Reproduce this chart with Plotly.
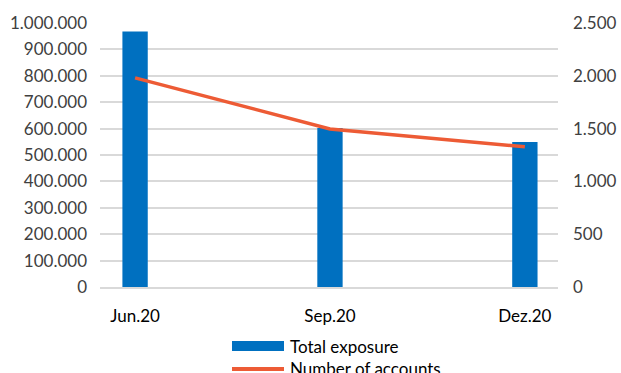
import plotly.graph_objects as go

categories = ["Jun.20", "Sep.20", "Dez.20"]
total_exposure = [968000, 602000, 549000]
number_of_accounts = [1980, 1497, 1328]
legend_labels = ["Total exposure", "Number of accounts"]

font_family = "Lato, Noto Sans, sans-serif"
text_color = "#404040"
bar_color = "#0070C0"
line_color = "#ED5B35"

fig = go.Figure()
fig.add_trace(go.Bar(
    x=[0, 1, 2], y=total_exposure, name=legend_labels[0],
    marker=dict(color=bar_color, line=dict(width=0)), width=0.13,
    yaxis="y",
))
fig.add_trace(go.Scatter(
    x=[0, 1, 2], y=number_of_accounts, name=legend_labels[1],
    mode="lines", line=dict(color=line_color, width=3.5),
    yaxis="y2",
))

# Legend drawn manually (reference legend is clipped at the bottom edge)
W, H = 458.0, 264.0
def px_x(p):
    return (p - 100) / W
def px_y(p):
    return (287 - p) / H

fig.add_shape(type="rect", xref="paper", yref="paper",
              x0=px_x(232), x1=px_x(284), y0=px_y(351), y1=px_y(341),
              fillcolor=bar_color, line=dict(width=0))
fig.add_shape(type="line", xref="paper", yref="paper",
              x0=px_x(232), x1=px_x(284), y0=px_y(369), y1=px_y(369),
              line=dict(color=line_color, width=4))
for lbl, py in zip(legend_labels, [346, 368]):
    fig.add_annotation(text=lbl, xref="paper", yref="paper",
                       x=px_x(288), y=px_y(py), xanchor="left", yanchor="middle",
                       showarrow=False, font=dict(size=17, color="#000000"))

fig.update_layout(
    template="none",
    width=621, height=373,
    margin=dict(l=100, r=63, t=23, b=86, pad=0),
    paper_bgcolor="white", plot_bgcolor="white",
    separators=",.",
    font=dict(family=font_family, size=17, color=text_color),
    showlegend=False,
    xaxis=dict(
        range=[-0.18, 2.17], tickmode="array", tickvals=[0, 1, 2],
        ticktext=categories, showgrid=False, zeroline=False,
        showline=True, linecolor="#d9d9d9", linewidth=1.5,
        ticks="", ticklabelstandoff=13, automargin=False,
        tickfont=dict(color="#000000"),
    ),
    yaxis=dict(
        range=[0, 1000000], dtick=100000, tickformat=",d",
        showgrid=True, gridcolor="#d9d9d9", gridwidth=1.5,
        zeroline=False, ticks="", ticklabelstandoff=12, automargin=False,
        showline=False,
    ),
    yaxis2=dict(
        range=[0, 2500], dtick=500, tickformat=",d",
        overlaying="y", side="right", showgrid=False, zeroline=False,
        ticks="", ticklabelstandoff=14, automargin=False, showline=False,
    ),
)

fig.write_html("out.html")
